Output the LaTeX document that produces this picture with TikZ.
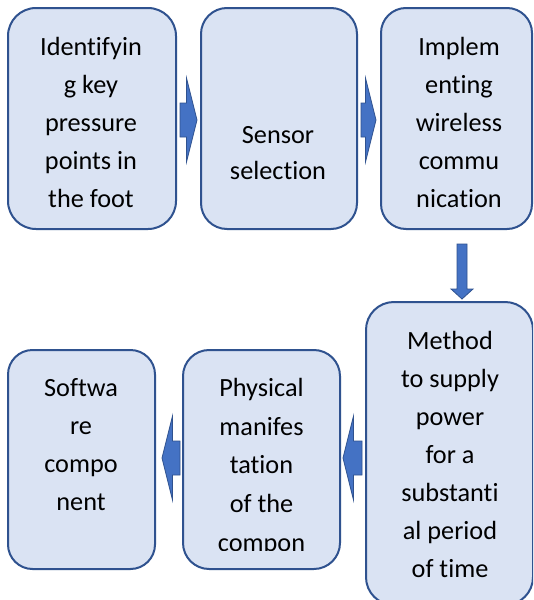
\documentclass[tikz,border=0pt]{standalone}
\usepackage{fontspec}
\setmainfont{Carlito}[Ligatures=NoCommon]
\usetikzlibrary{calc}

\definecolor{boxfill}{HTML}{DAE3F3}
\definecolor{boxline}{HTML}{2F528F}
\definecolor{arrowfill}{HTML}{4472C4}

% Block arrows: #1 = tail point, #2 = tip point
\newcommand{\RightBlockArrow}[2]{%
  \path[blockarrow] let \p1=#1, \p2=#2 in
    (\x1,\y1+12.75pt) -- (\x2-7.9pt,\y1+12.75pt) -- (\x2-7.9pt,\y1+31.5pt)
    -- (\x2,\y1) -- (\x2-7.9pt,\y1-31.5pt) -- (\x2-7.9pt,\y1-12.75pt)
    -- (\x1,\y1-12.75pt) -- cycle;}
\newcommand{\LeftBlockArrow}[2]{%
  \path[blockarrow] let \p1=#1, \p2=#2 in
    (\x1,\y1+12.75pt) -- (\x2+7.9pt,\y1+12.75pt) -- (\x2+7.9pt,\y1+31.5pt)
    -- (\x2,\y1) -- (\x2+7.9pt,\y1-31.5pt) -- (\x2+7.9pt,\y1-12.75pt)
    -- (\x1,\y1-12.75pt) -- cycle;}
\newcommand{\DownBlockArrow}[2]{%
  \path[blockarrow] let \p1=#1, \p2=#2 in
    (\x1-3.75pt,\y1) -- (\x1-3.75pt,\y2+7.5pt) -- (\x1-8.25pt,\y2+7.5pt)
    -- (\x1,\y2) -- (\x1+8.25pt,\y2+7.5pt) -- (\x1+3.75pt,\y2+7.5pt)
    -- (\x1+3.75pt,\y1) -- cycle;}

\begin{document}
\begin{tikzpicture}[x=0.75pt,y=-0.75pt,
  box/.style={draw=boxline, fill=boxfill, line width=1.5pt, inner sep=0pt},
  txt/.style={font=\fontsize{19.7pt}{28.5pt}\selectfont, align=center, inner sep=0pt, anchor=base},
  blockarrow/.style={draw=boxline, fill=arrowfill, line width=0.6pt, line join=miter}]

\fill[white] (0,0) rectangle (533,600);
\useasboundingbox (0,0) rectangle (533,600);
\clip (0,0) rectangle (533,600);

% process boxes
\node[box, minimum width=126pt, minimum height=165.75pt, rounded corners=21pt] (b1) at (92,118.5) {};
\node[box, minimum width=117pt, minimum height=165.75pt, rounded corners=19.5pt] (b2) at (279,118.5) {};
\node[box, minimum width=113.25pt, minimum height=165.75pt, rounded corners=18.75pt] (b3) at (456.5,118.5) {};
\node[box, minimum width=125.25pt, minimum height=227.25pt, rounded corners=20.9pt] (b4) at (449.5,453.5) {};
\node[box, minimum width=117.75pt, minimum height=164.25pt, rounded corners=19.6pt] (b5) at (261.5,459.5) {};
\node[box, minimum width=110.25pt, minimum height=164.25pt, rounded corners=18.4pt] (b6) at (81.5,459.5) {};

% labels (anchored at the baseline of the last line)
\node[txt] (t1) at (91,207) {Identifyin\\g key\\pressure\\points in\\the foot};
\node[txt, font=\fontsize{19.7pt}{27pt}\selectfont] (t2) at (278,179) {Sensor\\selection};
\node[txt] (t3) at (459,207) {Implem\\enting\\wireless\\commu\\nication};
\node[txt] (t4) at (450,577) {Method\\to supply\\power\\for a\\substanti\\al period\\of time};
\begin{scope}
  % text area of this box ends before its last line is complete
  \clip (183,350) rectangle (340,550.5);
  \node[txt, font=\fontsize{19.7pt}{28.9pt}\selectfont] (t5) at (261.5,551) {Physical\\manifes\\tation\\of the\\compon};
\end{scope}
\node[txt] (t6) at (81,510) {Softwa\\re\\compo\\nent};

% flow arrows
\RightBlockArrow{($(b1.east)+(3,1.5)$)}{($(b2.west)+(-3,1.5)$)}
\RightBlockArrow{($(b2.east)+(3,1.5)$)}{($(b3.west)+(-4,1.5)$)}
\DownBlockArrow{($(b3.south)+(5.5,14)$)}{($(b4.north)+(12.5,-2)$)}
\LeftBlockArrow{($(b4.west)+(-3,4.5)$)}{($(b5.east)+(2,-1.5)$)}
\LeftBlockArrow{($(b5.west)+(-2,-1.5)$)}{($(b6.east)+(6,-1.5)$)}

\end{tikzpicture}
\end{document}
